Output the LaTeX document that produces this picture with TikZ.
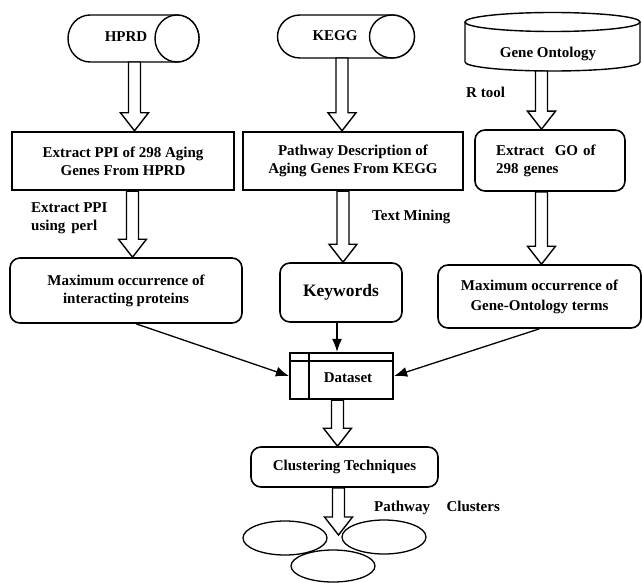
\documentclass[tikz,border=0pt]{standalone}
\usepackage{fontspec}
\setmainfont{Liberation Serif}
\usetikzlibrary{shapes.geometric,arrows.meta,calc}
\tikzset{
  thickbox/.style={draw, line width=2.4pt, align=center, inner sep=0pt},
  rbox/.style={draw, line width=1.6pt, rounded corners=10pt, align=center, inner sep=0pt},
  cyl/.style={draw, line width=1.4pt, fill=white},
  barr/.style={draw, line width=1.4pt, fill=white, line join=miter},
  conn/.style={line width=1.3pt, -{Latex[length=13pt,width=10pt]}},
  lbl/.style={inner sep=0pt, align=left, anchor=west},
  clus/.style={draw, ellipse, line width=1.3pt, minimum width=84pt, minimum height=34pt, inner sep=0pt},
}
\newcommand{\blockarr}[2]{%
  \path[barr] let \p1=(#1), \p2=(#2) in
   ({\x1-6pt},\y1) -- ({\x1-6pt},{\y2+18pt}) -- ({\x1-14pt},{\y2+18pt}) -- (\x1,\y2)
   -- ({\x1+14pt},{\y2+18pt}) -- ({\x1+6pt},{\y2+18pt}) -- ({\x1+6pt},\y1) -- cycle;}
\begin{document}
\begin{tikzpicture}[x=1pt,y=-1pt, font=\fontsize{15}{18}\selectfont\bfseries]
\fill[white] (0,0) rectangle (642,583);
\useasboundingbox (0,0) rectangle (642,583);

% cylinders
\draw[cyl] (90,15) -- (177,15) arc[start angle=90, end angle=-90, x radius=22pt, y radius=23.5pt]
  -- (90,62) arc[start angle=270, end angle=90, x radius=22pt, y radius=23.5pt] -- cycle;
\draw[cyl] (177,38.5) ellipse[x radius=22pt, y radius=23.5pt];
\node[inner sep=0pt] (hprd) at (126,37) {HPRD};

\draw[cyl] (300,15) -- (392,15) arc[start angle=90, end angle=-90, x radius=22.5pt, y radius=21.5pt]
  -- (300,58) arc[start angle=270, end angle=90, x radius=22.5pt, y radius=21.5pt] -- cycle;
\draw[cyl] (392,36.5) ellipse[x radius=22.5pt, y radius=21.5pt];
\node[inner sep=0pt] (kegg) at (335,36) {KEGG};

\draw[cyl] (465,22) -- (465,62) arc[start angle=180, end angle=360, x radius=87.5pt, y radius=9pt] -- (640,22);
\draw[cyl] (552.5,22) ellipse[x radius=87.5pt, y radius=9.5pt];
\node[inner sep=0pt] (go) at (548,54) {Gene Ontology};

\coordinate (hprdb) at (134.5,62);
\coordinate (keggb) at (342,58);
\coordinate (gob) at (541.5,71);

% boxes
\node[thickbox, minimum width=222pt, minimum height=58pt] (extract) at (123,161)
  {Extract PPI of 298 Aging\\Genes From HPRD};
\node[thickbox, minimum width=220pt, minimum height=58pt] (pathway) at (353,161)
  {Pathway Description of\\Aging Genes From KEGG};
\node[rbox, minimum width=150pt, minimum height=61pt, text width=108pt, align=left, inner xsep=21pt] (extractgo) at (550,160.5)
  {Extract\hspace{0.7em}GO of\\298 genes};
\node[rbox, minimum width=232pt, minimum height=65pt] (maxocc) at (126,290.5)
  {Maximum occurrence of\\interacting proteins};
\node[rbox, minimum width=122pt, minimum height=59pt, font=\fontsize{17.5}{20}\selectfont\bfseries] (keywords) at (341,292.5)
  {Keywords};
\node[rbox, minimum width=203pt, minimum height=63pt] (maxgo) at (539.5,296.5)
  {Maximum occurrence of\\[2pt]Gene-Ontology terms};
\node[draw, line width=2.2pt, minimum width=103pt, minimum height=46pt, inner sep=0pt] (dataset) at (341.5,376) {};
\draw[line width=2pt] ([yshift=-9pt]dataset.north west) -- ([yshift=-9pt]dataset.north east);
\draw[line width=2pt] ([xshift=20pt]dataset.north west) -- ([xshift=20pt]dataset.south west);
\node[inner sep=0pt] (dstext) at (348,378) {Dataset};
\node[rbox, minimum width=187pt, minimum height=40pt] (clustering) at (344.5,467)
  {Clustering Techniques};

% clusters
\node[clus] (c1) at (285,538) {};
\node[clus] (c2) at (384,537) {};
\node[clus, minimum height=32pt] (c3) at (333,566) {};
\coordinate (cltip) at (338,535);

% block arrows
\blockarr{hprdb}{extract.north}
\blockarr{keggb}{pathway.north}
\blockarr{gob}{extractgo.north}
\coordinate (a1) at ([xshift=9.5pt]extract.south);
\coordinate (a2) at ([xshift=-10pt]pathway.south);
\coordinate (a3) at ([xshift=-8.5pt]extractgo.south);
\coordinate (a4) at ([xshift=-4pt]dataset.south);
\coordinate (a5) at ([xshift=-6pt]clustering.south);
\blockarr{a1}{maxocc.north}
\blockarr{a2}{keywords.north}
\blockarr{a3}{maxgo.north}
\blockarr{a4}{clustering.north}
\blockarr{a5}{cltip}

% connectors to dataset
\draw[conn] ([xshift=10pt]maxocc.south) -- (dataset.west);
\draw[conn] (maxgo.south) -- (dataset.east);
\draw[conn] ([xshift=-4pt]keywords.south) -- ([xshift=-4pt]keywords.south |- dataset.north);

% labels
\node[lbl] (perl) at (31,218) {Extract PPI\\using\hspace{0.4em}perl};
\node[lbl] (tm) at (372,217) {Text Mining};
\node[lbl] (rtool) at (466,92) {R tool};
\node[lbl] (pc) at (374,508) {Pathway\hspace{1.1em}Clusters};
\end{tikzpicture}
\end{document}
